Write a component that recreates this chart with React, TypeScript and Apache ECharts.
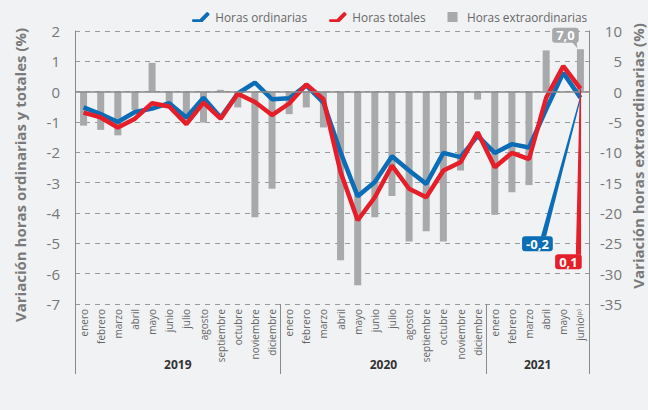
import React, { useEffect, useRef } from "react";
import * as echarts from "echarts";

const years = ["2019", "2020", "2021"];
const monthsFull = ["enero", "febrero", "marzo", "abril", "mayo", "junio", "julio", "agosto", "septiembre", "octubre", "noviembre", "diciembre"];
const months2021 = ["enero", "febrero", "marzo", "abril", "mayo", "junio\u207D\u1D56\u207E"];
const monthsByYear = [monthsFull, monthsFull, months2021];

const horasOrdinarias = [
  -0.52, -0.74, -1.0, -0.67, -0.56, -0.38, -0.85, -0.2, -0.85, -0.06, 0.3, -0.25,
  -0.22, 0.21, -0.36, -2.0, -3.45, -2.98, -2.13, -2.6, -3.04, -2.02, -2.16, -1.46,
  -2.02, -1.73, -1.84, -0.58, 0.62, -0.2,
];
const horasTotales = [
  -0.69, -0.85, -1.18, -0.89, -0.38, -0.49, -1.07, -0.36, -0.89, -0.07, -0.34, -0.77,
  -0.39, 0.24, -0.25, -2.65, -4.24, -3.48, -2.44, -3.2, -3.48, -2.6, -2.33, -1.34,
  -2.49, -2.02, -2.22, -0.2, 0.84, 0.1,
];
const horasExtraordinarias = [
  -5.6, -6.3, -7.2, -3.0, 4.75, -2.6, -4.8, -5.1, 0.3, -2.6, -20.7, -16.0,
  -3.7, -2.6, -5.9, -27.8, -31.9, -20.7, -17.2, -24.7, -23.0, -24.7, -13.0, -1.3,
  -20.3, -16.6, -15.4, 6.8, 0, 7.0,
];

const leftTicks = { min: -7, max: 2, interval: 1 };
const rightTicks = { min: -35, max: 10, interval: 5 };

const BLUE = "#0b6db5";
const RED = "#e61e2a";
const GRAY = "#a7a9ab";
const FONT = "'Open Sans', 'Noto Sans', sans-serif";

const categories: string[] = [];
monthsByYear.forEach((ms, yi) => ms.forEach((m) => categories.push(years[yi] + "|" + m)));

const boundaries: number[] = [0];
const centers: number[] = [];
monthsByYear.forEach((ms) => {
  const start = boundaries[boundaries.length - 1];
  centers.push(start + ms.length / 2);
  boundaries.push(start + ms.length);
});

const fmt = (v: number) => v.toFixed(1).replace(".", ",");

const LINE_ICON = "path://M1,8 H8 L15,1 Q16,0 17,1 L18,2 Q19,3 18,4 L11,11 H1 Q0,11 0,9.5 Q0,8 1,8 Z";

export default function App() {
  const ref = useRef<HTMLDivElement>(null);
  useEffect(() => {
    document.body.style.margin = "0";
    const chart = echarts.init(ref.current!, null, { renderer: "svg" });
    const option: any = {
      animation: false,
      backgroundColor: "#f1f2f4",
      textStyle: { fontFamily: FONT },
      grid: { left: 75, right: 59, top: 31, bottom: 106 },
      legend: {
        top: 6,
        left: 187,
        itemWidth: 19,
        itemHeight: 10,
        itemGap: 22,
        textStyle: { color: "#666", fontSize: 11.8, fontFamily: FONT },
        data: [
          { name: "Horas ordinarias", icon: LINE_ICON, itemStyle: { color: BLUE } },
          { name: "Horas totales", icon: LINE_ICON, itemStyle: { color: RED } },
          { name: "Horas extraordinarias", icon: "path://M0,0 H8 V8 H0 Z", itemStyle: { color: GRAY } },
        ],
      },
      xAxis: [
        {
          type: "category",
          data: categories,
          boundaryGap: true,
          axisLine: { show: false, onZero: false },
          axisTick: { show: false },
          axisLabel: {
            rotate: 90,
            interval: 0,
            margin: 5,
            fontSize: 10,
            color: "#666",
            fontFamily: FONT,
            formatter: (v: string) => v.split("|")[1],
          },
        },
        {
          type: "value",
          position: "bottom",
          min: 0,
          max: categories.length,
          axisLine: { show: false, onZero: false },
          splitLine: { show: false },
          axisTick: {
            show: true,
            customValues: boundaries,
            length: 70,
            lineStyle: { color: "#8a8a8a", width: 1 },
          },
          axisLabel: {
            show: true,
            customValues: centers,
            margin: 54,
            fontSize: 12,
            fontWeight: "bold",
            color: "#333",
            fontFamily: FONT,
            formatter: (v: number) => {
              const idx = centers.findIndex((c) => Math.abs(c - v) < 1e-6);
              return idx >= 0 ? years[idx] : "";
            },
          },
        },
      ],
      yAxis: [
        {
          type: "value",
          position: "left",
          ...leftTicks,
          axisLine: { show: true, lineStyle: { color: "#8a8a8a", width: 1 } },
          axisTick: { show: false },
          axisLabel: { fontSize: 15, color: "#777", margin: 15, fontFamily: FONT },
          splitLine: { show: true, lineStyle: { color: "#9a9a9a", type: [5, 5], width: 1 } },
        },
        {
          type: "value",
          position: "right",
          ...rightTicks,
          axisLine: { show: true, lineStyle: { color: "#8a8a8a", width: 1 } },
          axisTick: { show: false },
          axisLabel: { fontSize: 15, color: "#777", margin: 33, align: "right", fontFamily: FONT },
          splitLine: { show: false },
        },
      ],
      series: [
        {
          name: "Horas extraordinarias",
          type: "bar",
          xAxisIndex: 0,
          yAxisIndex: 1,
          data: horasExtraordinarias,
          barWidth: 7,
          itemStyle: { color: GRAY },
          markLine: {
            silent: true,
            symbol: "none",
            label: { show: false },
            lineStyle: { color: "#8a8a8a", type: "solid", width: 1.5 },
            data: [{ yAxis: 0 }],
          },
        },
        {
          name: "Horas ordinarias",
          type: "line",
          xAxisIndex: 0,
          yAxisIndex: 0,
          data: horasOrdinarias,
          symbol: "none",
          lineStyle: { color: BLUE, width: 4.5 },
          itemStyle: { color: BLUE },
        },
        {
          name: "Horas totales",
          type: "line",
          xAxisIndex: 0,
          yAxisIndex: 0,
          data: horasTotales,
          symbol: "none",
          lineStyle: { color: RED, width: 4.5 },
          itemStyle: { color: RED },
        },
      ],
    };
    chart.setOption(option);

    const last = categories.length - 1;
    const pB = chart.convertToPixel({ xAxisIndex: 0, yAxisIndex: 0 }, [last, horasOrdinarias[last]]) as number[];
    const pR = chart.convertToPixel({ xAxisIndex: 0, yAxisIndex: 0 }, [last, horasTotales[last]]) as number[];
    const pE = chart.convertToPixel({ xAxisIndex: 0, yAxisIndex: 1 }, [last, horasExtraordinarias[last]]) as number[];

    const taper = (x1: number, y1: number, x2: number, y2: number, color: string) => ({
      type: "polygon",
      silent: true,
      z: 100,
      shape: { points: [[x1 - 0.6, y1], [x1 + 0.6, y1], [x2 + 2.6, y2], [x2 - 2.6, y2]] },
      style: { fill: color },
    });
    const box = (cx: number, cy: number, text: string, color: string) => ({
      type: "text",
      silent: true,
      z: 101,
      x: cx,
      y: cy,
      style: {
        text,
        fill: "#fff",
        font: "bold 13px " + FONT,
        align: "center",
        verticalAlign: "middle",
        backgroundColor: color,
        padding: [1, 4, 1, 4],
        borderRadius: 3,
      },
    });

    const bC = [pB[0] - 43, pB[1] + 146];
    const rC = [pR[0] - 12, pR[1] + 173];
    const eC = [pE[0] - 15, pE[1] - 14];

    chart.setOption({
      graphic: [
        {
          type: "text",
          silent: true,
          x: 20,
          y: 175,
          rotation: Math.PI / 2,
          style: {
            text: "Variación horas ordinarias y totales (%)",
            fill: "#7a7a7a",
            font: "bold 15px " + FONT,
            align: "center",
            verticalAlign: "middle",
          },
        },
        {
          type: "text",
          silent: true,
          x: 638,
          y: 156,
          rotation: Math.PI / 2,
          style: {
            text: "Variación horas extraordinarias (%)",
            fill: "#7a7a7a",
            font: "bold 15px " + FONT,
            align: "center",
            verticalAlign: "middle",
          },
        },
        taper(pB[0], pB[1], bC[0] + 6, bC[1] - 7, BLUE),
        taper(pR[0], pR[1], rC[0] + 10, rC[1] - 7, RED),
        box(bC[0], bC[1], fmt(horasOrdinarias[last]), BLUE),
        box(rC[0], rC[1], fmt(horasTotales[last]), RED),
        {
          type: "polygon",
          silent: true,
          z: 100,
          shape: { points: [[eC[0] + 5, eC[1] + 5], [eC[0] + 11, eC[1] + 5], [eC[0] + 12, eC[1] + 13]] },
          style: { fill: GRAY },
        },
        box(eC[0], eC[1], fmt(horasExtraordinarias[last]), GRAY),
      ],
    });

    return () => chart.dispose();
  }, []);
  return <div ref={ref} style={{ width: 648, height: 410 }} />;
}
